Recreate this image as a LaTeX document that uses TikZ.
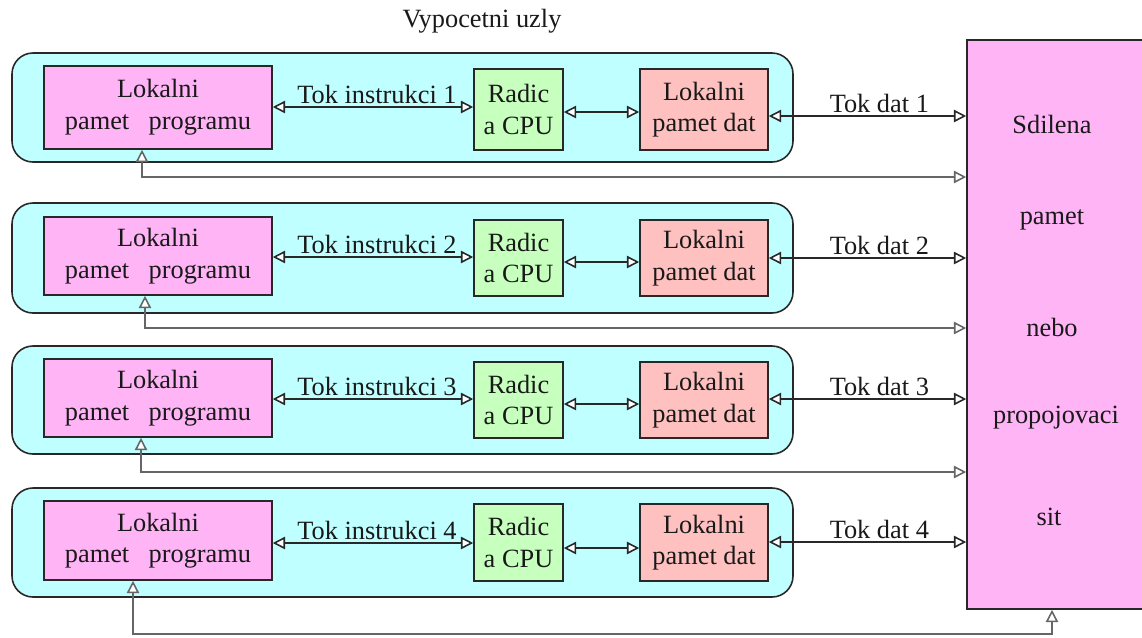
\documentclass[tikz,border=0pt]{standalone}
\usepackage{fontspec}
\setmainfont{Liberation Serif}
\usetikzlibrary{arrows.meta,fit}
\definecolor{cyanbg}{HTML}{C0FFFF}
\definecolor{pinkbg}{HTML}{FFB4F6}
\definecolor{greenbg}{HTML}{C6FFBE}
\definecolor{salmonbg}{HTML}{FFC0C0}
\definecolor{linec}{HTML}{282828}
\tikzset{
  txt/.style={font=\fontsize{15}{18}\selectfont, text=black!90},
  groupbox/.style={draw=linec, line width=0.9pt, fill=cyanbg, rounded corners=0.42cm, inner sep=0pt},
  boxbase/.style={draw=linec, line width=0.9pt, inner sep=0pt, align=center, txt},
  progbox/.style={boxbase, fill=pinkbg, minimum width=4.56cm},
  cpubox/.style={boxbase, fill=greenbg, minimum width=1.78cm},
  datbox/.style={boxbase, fill=salmonbg, minimum width=2.56cm},
  sharedbox/.style={draw=linec, line width=0.9pt, fill=pinkbg, inner sep=0pt},
  tip/.tip={Triangle[open, fill=white, length=7pt, width=7pt, line width=0.9pt]},
  dblarrow/.style={draw=linec, line width=1.1pt, tip-tip},
  fbarrow/.style={draw=black!60, line width=1.5pt, tip-tip},
  lbl/.style={txt, inner sep=1.5pt}
}
\begin{document}
\begin{tikzpicture}[x=0.02cm, y=-0.02cm]
\useasboundingbox (0,0) rectangle (1142,637);
\fill[white] (0,0) rectangle (1142,637);

% title
\node[txt, anchor=base] (title) at (482,27) {Vypocetni uzly};

% shared memory
\node[sharedbox, fit={(967,40)(1150,609)}] (shared) {};
\node[txt] (s1) at (1052,124) {Sdilena};
\node[txt] (s2) at (1052,220) {pamet};
\node[txt] (s3) at (1052,327) {nebo};
\node[txt] (s4) at (1056,418) {propojovaci};
\node[txt] (s5) at (1049,517) {sit};

\foreach \i/\Gt/\Gb/\Pt/\Pb/\Iy/\Dy in {
  1/53/162/66/149/107/116,
  2/203/313/217/295/257/258,
  3/346/454/359/437/399/399,
  4/488/597/501/580/543/542}{
  \pgfmathsetmacro{\ph}{(\Pb-\Pt)*0.02}
  \pgfmathsetmacro{\ch}{(\Pb-\Pt-2)*0.02}
  \node[groupbox, fit={(12,\Gt)(793,\Gb)}] (group\i) {};
  \node[progbox, minimum height=\ph cm] (prog\i) at (158,{(\Pt+\Pb)/2}) {Lokalni\\pamet\hspace{11pt}programu};
  \node[cpubox, minimum height=\ch cm] (cpu\i) at (518.5,{(\Pt+\Pb)/2+2}) {Radic\\a CPU};
  \node[datbox, minimum height=\ch cm] (dat\i) at (704,{(\Pt+\Pb)/2+2}) {Lokalni\\pamet dat};
  \draw[dblarrow] (prog\i.east |- 0,\Iy) -- node[lbl, above, pos=0.52] {Tok instrukci \i} (cpu\i.west |- 0,\Iy);
  \draw[dblarrow] (cpu\i.east |- 0,\Iy+5) -- (dat\i.west |- 0,\Iy+5);
  \draw[dblarrow] (dat\i.east |- 0,\Dy) -- node[lbl, above, pos=0.56] {Tok dat \i} (shared.west |- 0,\Dy);
}
\foreach \i/\Fy/\Fx in {1/177/142, 2/328/145, 3/472/141}{
  \draw[fbarrow] (prog\i.south -| \Fx,0) -- (\Fx,\Fy) -- (shared.west |- 0,\Fy);
}
\coordinate (bl) at (133,634);
\coordinate (br) at (1052,634);
\draw[fbarrow] (prog4.south -| bl) -- (bl) -- (br) -- (shared.south -| br);
\end{tikzpicture}
\end{document}
